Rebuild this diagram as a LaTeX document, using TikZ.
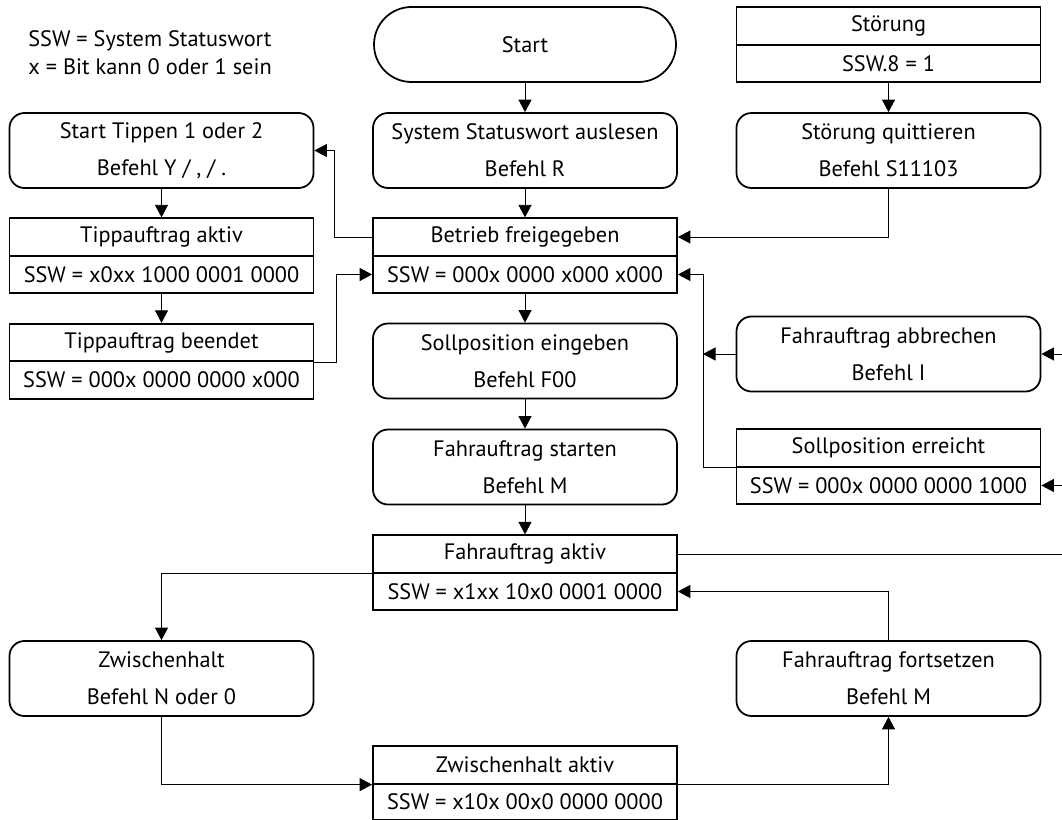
\documentclass[tikz,border=0pt]{standalone}
\usepackage{fontspec}
\setmainfont{PT Sans}
\usetikzlibrary{arrows.meta}

\begin{document}
\begin{tikzpicture}[every node/.style={font=\fontsize{12.7}{21}\selectfont},
  befehl/.style={draw, line width=1pt, rounded corners=0.3cm, minimum width=6.08cm, minimum height=1.5cm, align=center},
  status/.style={draw, line width=1pt, minimum width=6.08cm, minimum height=0.75cm, inner sep=2pt},
  pfeil/.style={-{Triangle[length=0.25cm,width=0.26cm]}, line width=0.5pt},
  linie/.style={line width=0.5pt}]
  \useasboundingbox (0,0) rectangle (21.24,-16.4);
  \node[anchor=west, align=left, inner sep=0pt, font=\fontsize{12.7}{16}\selectfont] (legende) at (0.56,-1.06) {SSW = System Statuswort\\x = Bit kann 0 oder 1 sein};
  % obere Reihe
  \node[befehl, rounded corners=0.75cm, minimum width=6.04cm] (start) at (10.5,-0.89) {Start};
  \node[status] (stoer) at (17.77,-0.52) {Störung};
  \node[status] (stoerssw) at (17.77,-1.27) {SSW.8 = 1};
  \node[befehl] (tippen) at (3.23,-3.01) {Start Tippen 1 oder 2\\Befehl Y / , / .};
  \node[befehl] (system) at (10.5,-3.01) {System Statuswort auslesen\\Befehl R};
  \node[befehl] (quitt) at (17.77,-3.01) {Störung quittieren\\Befehl S11103};
  % Betrieb und Tippen
  \node[status] (tippakt) at (3.23,-4.74) {Tippauftrag aktiv};
  \node[status] (tippaktssw) at (3.23,-5.49) {SSW = x0xx 1000 0001 0000};
  \node[status] (betrieb) at (10.5,-4.74) {Betrieb freigegeben};
  \node[status] (betriebssw) at (10.5,-5.49) {SSW = 000x 0000 x000 x000};
  \node[status] (tippend) at (3.23,-6.85) {Tippauftrag beendet};
  \node[status] (tippendssw) at (3.23,-7.60) {SSW = 000x 0000 0000 x000};
  \node[befehl] (sollein) at (10.5,-7.22) {Sollposition eingeben\\Befehl F00};
  \node[befehl] (abbruch) at (17.77,-7.08) {Fahrauftrag abbrechen\\Befehl I};
  \node[befehl] (fstart) at (10.5,-9.34) {Fahrauftrag starten\\Befehl M};
  \node[status] (erreicht) at (17.77,-8.96) {Sollposition erreicht};
  \node[status] (erreichtssw) at (17.77,-9.71) {SSW = 000x 0000 0000 1000};
  \node[status] (faktiv) at (10.5,-11.08) {Fahrauftrag aktiv};
  \node[status] (faktivssw) at (10.5,-11.83) {SSW = x1xx 10x0 0001 0000};
  % Zwischenhalt
  \node[befehl] (zwischen) at (3.23,-13.57) {Zwischenhalt\\Befehl N oder 0};
  \node[befehl] (fortsetz) at (17.77,-13.57) {Fahrauftrag fortsetzen\\Befehl M};
  \node[status] (zhaktiv) at (10.5,-15.30) {Zwischenhalt aktiv};
  \node[status, minimum height=0.72cm] (zhaktivssw) at (10.5,-16.03) {SSW = x10x 00x0 0000 0000};
  \coordinate (rand) at (21.24,0);
  \coordinate (rueck) at (14.06,-5.49);
  % Verbindungen
  \draw[pfeil] (start.south) -- (system.north);
  \draw[pfeil] (stoerssw.south) -- (quitt.north);
  \draw[pfeil] (quitt.south) |- (betrieb.east);
  \draw[pfeil] (system.south) -- (betrieb.north);
  \draw[pfeil] (betrieb.west) -- ++(-0.76,0) |- (tippen.east);
  \draw[pfeil] (tippen.south) -- (tippakt.north);
  \draw[pfeil] (tippaktssw.south) -- (tippend.north);
  \draw[pfeil] (tippend.south east) -- ++(0.44,0) |- (betriebssw.west);
  \draw[pfeil] (betriebssw.south) -- (sollein.north);
  \draw[pfeil] (sollein.south) -- (fstart.north);
  \draw[pfeil] (fstart.south) -- (faktiv.north);
  \draw[pfeil] (erreicht.south west) -| (rueck) -- (betriebssw.east);
  \draw[pfeil] (abbruch.west) -- (abbruch.west -| rueck);
  \draw[pfeil] (abbruch.east -| rand) -- (abbruch.east);
  \draw[pfeil] (erreichtssw.east -| rand) -- (erreichtssw.east);
  \draw[linie] (faktiv.east) -- (faktiv.east -| rand);
  \draw[pfeil] (faktiv.south west) -| (zwischen.north);
  \draw[pfeil] (zwischen.south) |- (zhaktiv.south west);
  \draw[pfeil] (zhaktiv.south east) -| (fortsetz.south);
  \draw[pfeil] (fortsetz.north) |- (faktivssw.east);
\end{tikzpicture}
\end{document}
